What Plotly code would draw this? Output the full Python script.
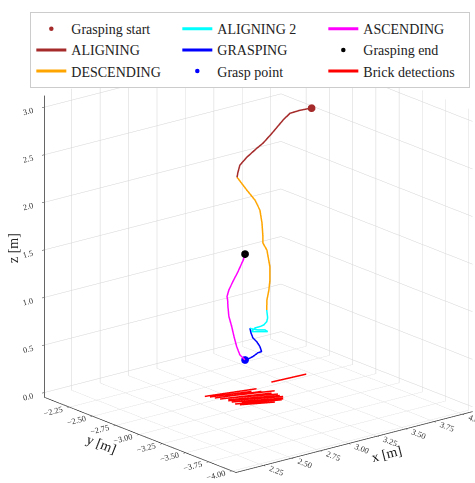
import plotly.graph_objects as go

# ---- data (world coordinates, metres) ----
aligning_x = [3.370, 3.309, 3.256, 3.219, 3.187, 3.161, 3.113, 3.081, 3.028, 2.991, 2.981, 2.976]
aligning_y = [-3.189, -3.139, -3.096, -3.066, -3.041, -3.019, -2.981, -2.955, -2.912, -2.882, -2.874, -2.870]
aligning_z = [3.036, 3.012, 2.980, 2.907, 2.833, 2.770, 2.665, 2.613, 2.518, 2.434, 2.361, 2.308]

descending_x = [2.976, 3.028, 3.071, 3.097, 3.108, 3.113, 3.113, 3.134, 3.150, 3.150, 3.145, 3.134, 3.133]
descending_y = [-2.870, -2.912, -2.947, -2.968, -2.977, -2.981, -2.981, -2.998, -3.011, -3.011, -3.006, -2.998, -2.997]
descending_z = [2.308, 2.172, 2.067, 1.962, 1.826, 1.679, 1.616, 1.542, 1.364, 1.228, 1.123, 1.018, 0.913]

aligning2_x = [3.133, 3.138, 3.133, 3.118, 3.097, 3.071, 3.053, 3.080, 3.113, 3.138, 3.124, 3.087, 3.053, 3.044]
aligning2_y = [-2.997, -3.001, -2.997, -2.985, -2.968, -2.947, -2.932, -2.954, -2.981, -3.001, -2.989, -2.959, -2.932, -2.925]
aligning2_z = [0.913, 0.829, 0.790, 0.756, 0.738, 0.724, 0.685, 0.685, 0.685, 0.685, 0.703, 0.703, 0.714, 0.721]

grasping_x = [3.044, 3.050, 3.060, 3.080, 3.097, 3.106, 3.087, 3.060, 3.027, 3.018]
grasping_y = [-2.925, -2.929, -2.938, -2.954, -2.968, -2.975, -2.959, -2.938, -2.911, -2.904]
grasping_z = [0.721, 0.672, 0.619, 0.580, 0.528, 0.475, 0.462, 0.423, 0.388, 0.388]

ascending_x = [3.018, 2.991, 2.974, 2.960, 2.948, 2.933, 2.928, 2.926, 2.923, 2.933, 2.954, 2.981, 3.009, 3.018]
ascending_y = [-2.904, -2.882, -2.868, -2.857, -2.847, -2.835, -2.831, -2.830, -2.827, -2.835, -2.852, -2.874, -2.897, -2.904]
ascending_z = [0.388, 0.441, 0.528, 0.633, 0.738, 0.843, 0.948, 1.018, 1.052, 1.123, 1.210, 1.315, 1.438, 1.501]

grasping_start = (3.370, -3.189, 3.036)
grasp_point = (3.018, -2.904, 0.388)
grasping_end = (3.018, -2.904, 1.501)

# brick detections: segment start / end on the floor (z = 0)
brick_x0 = [3.357, 2.810, 2.841, 2.855, 2.890, 2.877, 2.867, 2.883, 2.916, 2.955, 2.876, 2.929, 2.829]
brick_y0 = [-2.773, -2.727, -2.796, -2.835, -2.881, -2.934, -2.982, -3.014, -2.812, -2.872, -2.898, -2.977, -2.758]
brick_x1 = [3.650, 3.188, 3.178, 3.209, 3.220, 3.202, 3.172, 3.105, 3.257, 3.230, 3.224, 3.193, 3.125]
brick_y1 = [-2.790, -2.820, -2.886, -2.956, -3.032, -3.089, -3.110, -3.119, -2.931, -3.000, -3.062, -3.101, -2.843]

x_ticks = [2.25, 2.50, 2.75, 3.00, 3.25, 3.50, 3.75, 4.00]
y_ticks = [-2.25, -2.50, -2.75, -3.00, -3.25, -3.50, -3.75, -4.00]
z_ticks = [0.0, 0.5, 1.0, 1.5, 2.0, 2.5, 3.0]

# ---- build brick segments ----
bx, by, bz = [], [], []
for a, b, c, d in zip(brick_x0, brick_y0, brick_x1, brick_y1):
    bx += [a, c, None]
    by += [b, d, None]
    bz += [0.0, 0.0, None]

FONT = "Liberation Serif"
LW = 3

def line(name, xs, ys, zs, color, width=LW):
    return go.Scatter3d(x=xs, y=ys, z=zs, mode="lines", name=name,
                        line=dict(color=color, width=width))

def dot(name, p, color):
    return go.Scatter3d(x=[p[0]], y=[p[1]], z=[p[2]], mode="markers", name=name,
                        marker=dict(color=color, size=4.5))

# row-major order so the 3-column legend matches the column-major original
traces = [
    dot("Grasping start", grasping_start, "#a52a2a"),
    line("ALIGNING 2", aligning2_x, aligning2_y, aligning2_z, "#00ffff"),
    line("ASCENDING", ascending_x, ascending_y, ascending_z, "#ff00ff"),
    line("ALIGNING", aligning_x, aligning_y, aligning_z, "#a52a2a"),
    line("GRASPING", grasping_x, grasping_y, grasping_z, "#0000ff"),
    dot("Grasping end", grasping_end, "#000000"),
    line("DESCENDING", descending_x, descending_y, descending_z, "#ffa500"),
    dot("Grasp point", grasp_point, "#0000ff"),
    line("Brick detections", bx, by, bz, "#ff0000", width=3),
]

fig = go.Figure(traces)

def fmt(v, nd):
    s = f"{v:.{nd}f}"
    return s.replace("-", "\u2212")

axis_common = dict(
    showbackground=False,
    gridcolor="#d4d4d4",
    gridwidth=1,
    showline=True,
    linecolor="#333333",
    linewidth=1.5,
    ticks="outside",
    ticklen=3,
    tickcolor="#333333",
    zeroline=False,
    showspikes=False,
    tickfont=dict(family=FONT, size=10, color="#333333"),
)

fig.update_layout(
    width=475, height=483,
    margin=dict(l=0, r=0, t=0, b=0),
    paper_bgcolor="white",
    font=dict(family=FONT, color="#222222"),
    scene=dict(
        domain=dict(x=[0.0, 1.0], y=[0.0, 1.0]),
        xaxis=dict(range=[2.01, 4.09], tickvals=x_ticks,
                   ticktext=[fmt(v, 2) for v in x_ticks],
                   title=dict(text="x [m]", font=dict(family=FONT, size=14)), **axis_common),
        yaxis=dict(range=[-4.04, -1.98], tickvals=y_ticks,
                   ticktext=[fmt(v, 2) for v in y_ticks],
                   title=dict(text="y [m]", font=dict(family=FONT, size=14)), **axis_common),
        zaxis=dict(range=[-0.05, 3.12], tickvals=z_ticks,
                   ticktext=[fmt(v, 1) for v in z_ticks],
                   title=dict(text=""), **axis_common),
        aspectmode="manual",
        aspectratio=dict(x=1.2606, y=1.2606, z=1.317),
        camera=dict(eye=dict(x=-0.850, y=-0.912, z=0.470),
                    center=dict(x=-0.0574, y=0.0671, z=0.0478),
                    up=dict(x=0, y=0, z=1),
                    projection=dict(type="orthographic")),
    ),
    annotations=[dict(
        text="z [m]", xref="paper", yref="paper", x=0.028, y=0.487,
        showarrow=False, textangle=-90, xanchor="center", yanchor="middle",
        font=dict(family=FONT, size=14, color="#222222"),
    )],
    showlegend=True,
    legend=dict(
        orientation="h",
        x=0.527, xanchor="center",
        y=0.975, yanchor="top",
        entrywidth=101,
        itemwidth=30,
        bgcolor="white",
        bordercolor="#cccccc",
        borderwidth=1,
        font=dict(family=FONT, size=14, color="#222222"),
    ),
)

fig.write_html("out.html")
